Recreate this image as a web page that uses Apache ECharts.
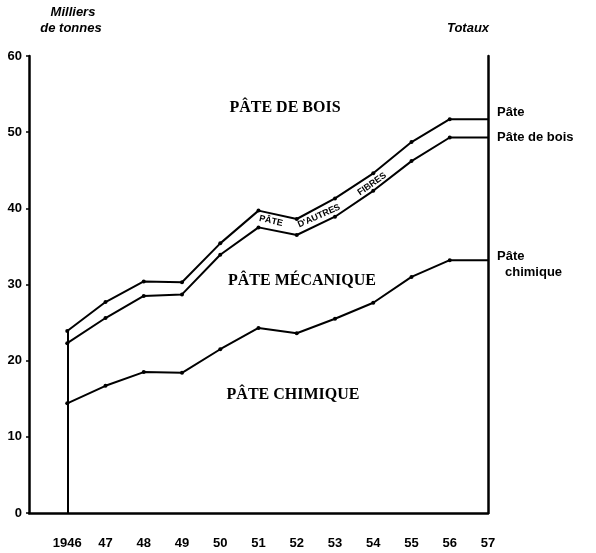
<!DOCTYPE html>
<html>
<head>
<meta charset="utf-8">
<script src="https://cdn.jsdelivr.net/npm/echarts@6/dist/echarts.min.js"></script>
<style>
  html, body { margin: 0; padding: 0; background: #fff; }
  #chart { width: 596px; height: 553px; }
</style>
</head>
<body>
<div id="chart"></div>
<script>
const years = [1946, 1947, 1948, 1949, 1950, 1951, 1952, 1953, 1954, 1955, 1956, 1957]
const yearLabels = ['1946', '47', '48', '49', '50', '51', '52', '53', '54', '55', '56', '57']
// totals in milliers de tonnes; 1957 just carries the 1956 level to the right edge
const pateTotal = [23.9, 27.7, 30.4, 30.3, 35.4, 39.7, 38.6, 41.3, 44.6, 48.7, 51.7, 51.7]
const pateBois = [22.3, 25.6, 28.5, 28.7, 33.9, 37.5, 36.5, 38.9, 42.3, 46.2, 49.3, 49.3]
const pateChimique = [14.4, 16.7, 18.5, 18.4, 21.5, 24.3, 23.6, 25.5, 27.6, 31.0, 33.2, 33.2]
const yTicks = [0, 10, 20, 30, 40, 50, 60]

const labelFont = 'Liberation Sans'
const serif = 'Liberation Serif'

function points(values) {
  return years.map((y, i) => ({
    value: [y, values[i]],
    symbol: i === years.length - 1 ? 'none' : 'circle'
  }))
}

function lineSeries(name, values) {
  return {
    name,
    type: 'line',
    data: points(values),
    symbolSize: 4,
    itemStyle: { color: '#000' },
    lineStyle: { color: '#000', width: 2 },
    silent: true,
    z: 3
  }
}

function text(x, y, str, style, rotation) {
  return {
    type: 'text',
    x, y,
    rotation: rotation || 0,
    style: Object.assign({ text: str, fill: '#000', align: 'center', verticalAlign: 'middle' }, style)
  }
}

const chart = echarts.init(document.getElementById('chart'))

const total = lineSeries('Pâte', pateTotal)
total.markLine = {
  symbol: 'none',
  silent: true,
  label: { show: false },
  lineStyle: { color: '#000', width: 2, type: 'solid' },
  data: [[{ coord: [years[0], 0] }, { coord: [years[0], pateTotal[0]] }]]
}

chart.setOption({
  animation: false,
  grid: { left: 29, right: 108, top: 56, bottom: 40 },
  xAxis: {
    type: 'value',
    min: 1945,
    max: 1957,
    interval: 1,
    axisLine: { show: true, lineStyle: { color: '#000', width: 2.5 } },
    axisTick: { show: false },
    splitLine: { show: false },
    axisLabel: {
      margin: 24,
      color: '#000',
      fontFamily: labelFont,
      fontWeight: 'bold',
      fontSize: 13,
      showMaxLabel: true,
      formatter: v => {
        const i = years.indexOf(v)
        return i >= 0 ? yearLabels[i] : ''
      }
    }
  },
  yAxis: [{
    type: 'value',
    min: yTicks[0],
    max: yTicks[yTicks.length - 1],
    interval: 10,
    axisLine: { show: true, lineStyle: { color: '#000', width: 2.5 } },
    axisTick: { show: true, length: 3, lineStyle: { color: '#000', width: 1.5 } },
    splitLine: { show: false },
    axisLabel: {
      margin: 7,
      color: '#000',
      fontFamily: labelFont,
      fontWeight: 'bold',
      fontSize: 13
    }
  }, {
    type: 'value',
    position: 'right',
    min: yTicks[0],
    max: yTicks[yTicks.length - 1],
    axisLine: { show: true, lineStyle: { color: '#000', width: 2.5 } },
    axisTick: { show: false },
    axisLabel: { show: false },
    splitLine: { show: false }
  }],
  series: [
    total,
    lineSeries('Pâte de bois', pateBois),
    lineSeries('Pâte chimique', pateChimique)
  ],
  graphic: [
    text(73, 12, 'Milliers', { font: 'italic bold 13px ' + labelFont }),
    text(71, 28, 'de tonnes', { font: 'italic bold 13px ' + labelFont }),
    text(468, 28, 'Totaux', { font: 'italic bold 13px ' + labelFont }),
    text(285, 108, 'PÂTE DE BOIS', { font: 'bold 16px ' + serif }),
    text(302, 281, 'PÂTE MÉCANIQUE', { font: 'bold 16px ' + serif }),
    text(293, 395, 'PÂTE CHIMIQUE', { font: 'bold 16px ' + serif }),
    text(271, 221, 'PÂTE', { font: 'bold 9px ' + labelFont }, -0.22),
    text(319, 216, "D'AUTRES", { font: 'bold 9px ' + labelFont }, 0.42),
    text(372, 184, 'FIBRES', { font: 'bold 9px ' + labelFont }, 0.62),
    text(497, 112, 'Pâte', { font: 'bold 13px ' + labelFont, align: 'left' }),
    text(497, 137, 'Pâte de bois', { font: 'bold 13px ' + labelFont, align: 'left' }),
    text(497, 256, 'Pâte', { font: 'bold 13px ' + labelFont, align: 'left' }),
    text(505, 272, 'chimique', { font: 'bold 13px ' + labelFont, align: 'left' })
  ]
})
</script>
</body>
</html>
